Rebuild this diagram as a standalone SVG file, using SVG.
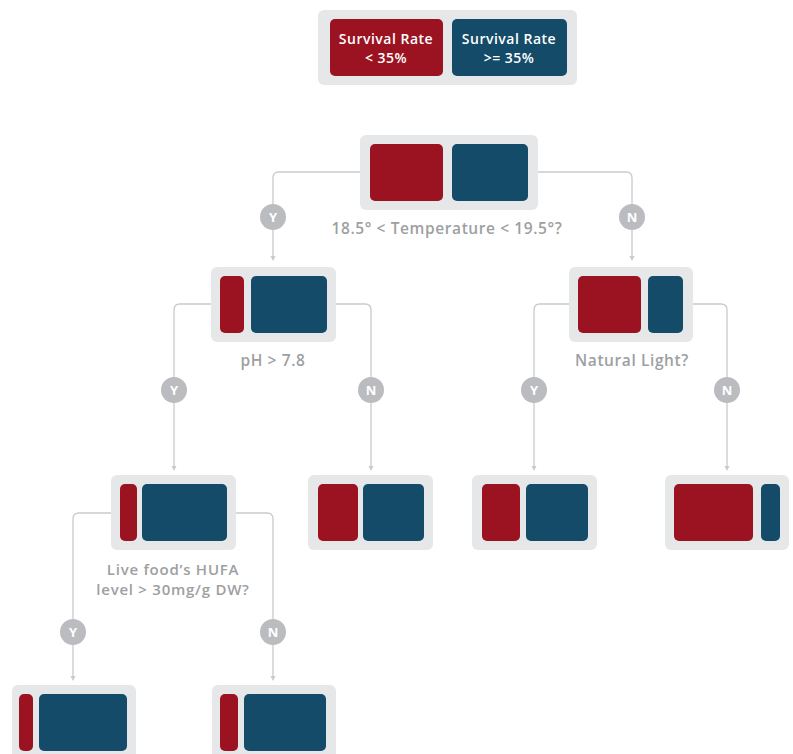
<svg xmlns="http://www.w3.org/2000/svg" width="793" height="754" viewBox="0 0 793 754">
<defs>
<style>
.box{fill:#E6E7E8}
.r{fill:#9B1220}
.b{fill:#134B69}
.c{fill:none;stroke:#C9CACC;stroke-width:1.3}
.dot{fill:#BBBCBF}
.dt{fill:#FFFFFF;font-family:"Open Sans",sans-serif;font-weight:700;font-size:13px;text-anchor:middle}
.lbl{fill:#9D9FA2;font-family:"Open Sans",sans-serif;font-weight:600;font-size:15.5px;letter-spacing:0.6px;text-anchor:middle}
.lbl2{fill:#9D9FA2;font-family:"Open Sans",sans-serif;font-weight:600;font-size:15px;letter-spacing:0.75px;text-anchor:middle}
.lg{fill:#FFFFFF;font-family:"Open Sans",sans-serif;font-weight:600;font-size:14px;letter-spacing:0.5px;text-anchor:middle}
</style>
</defs>
<rect width="793" height="754" fill="#FFFFFF"/>

<g id="connectors">
<path class="c" d="M360,172 H279 Q273,172 273,178 V258"/>
<path class="c" d="M538,172 H626 Q632,172 632,178 V258"/>
<path class="c" d="M211,304 H180 Q174,304 174,310 V468"/>
<path class="c" d="M336,304 H365 Q371,304 371,310 V468"/>
<path class="c" d="M569,304 H540 Q534,304 534,310 V468"/>
<path class="c" d="M693,304 H721 Q727,304 727,310 V468"/>
<path class="c" d="M111,513 H79 Q73,513 73,519 V678"/>
<path class="c" d="M236,513 H267 Q273,513 273,519 V678"/>
<g fill="#C9CACC">
<path d="M270.5,256 L275.5,256 L273,261 Z"/>
<path d="M629.5,256 L634.5,256 L632,261 Z"/>
<path d="M171.5,466 L176.5,466 L174,471 Z"/>
<path d="M368.5,466 L373.5,466 L371,471 Z"/>
<path d="M531.5,466 L536.5,466 L534,471 Z"/>
<path d="M724.5,466 L729.5,466 L727,471 Z"/>
<path d="M70.5,676 L75.5,676 L73,681 Z"/>
<path d="M270.5,676 L275.5,676 L273,681 Z"/>
</g>
<g id="yn">
<circle class="dot" cx="273" cy="217" r="13"/><text class="dt" x="273" y="222">Y</text>
<circle class="dot" cx="632" cy="217" r="13"/><text class="dt" x="632" y="222">N</text>
<circle class="dot" cx="174" cy="390" r="13"/><text class="dt" x="174" y="395">Y</text>
<circle class="dot" cx="371" cy="390" r="13"/><text class="dt" x="371" y="395">N</text>
<circle class="dot" cx="534" cy="390" r="13"/><text class="dt" x="534" y="395">Y</text>
<circle class="dot" cx="727" cy="390" r="13"/><text class="dt" x="727" y="395">N</text>
<circle class="dot" cx="73" cy="632" r="13"/><text class="dt" x="73" y="637">Y</text>
<circle class="dot" cx="273" cy="632" r="13"/><text class="dt" x="273" y="637">N</text>
</g>
</g>

<g id="legend">
<rect class="box" x="318" y="10" width="259" height="75" rx="6"/>
<rect class="r" x="330" y="19" width="113" height="57" rx="5"/>
<rect class="b" x="452" y="19" width="115" height="57" rx="5"/>
<text class="lg" x="386" y="44">Survival Rate</text>
<text class="lg" x="386" y="63">&lt; 35%</text>
<text class="lg" x="509" y="44">Survival Rate</text>
<text class="lg" x="509" y="63">&gt;= 35%</text>
</g>

<g id="root">
<rect class="box" x="360" y="135" width="178" height="75" rx="6"/>
<rect class="r" x="370" y="144" width="73" height="57" rx="5"/>
<rect class="b" x="452" y="144" width="76" height="57" rx="5"/>
<text class="lbl" x="447" y="234">18.5° &lt; Temperature &lt; 19.5°?</text>
</g>

<g id="ph">
<rect class="box" x="211" y="267" width="125" height="75" rx="6"/>
<rect class="r" x="220" y="276" width="24" height="57" rx="5"/>
<rect class="b" x="251" y="276" width="76" height="57" rx="5"/>
<text class="lbl" x="273" y="366">pH &gt; 7.8</text>
</g>

<g id="light">
<rect class="box" x="569" y="267" width="124" height="75" rx="6"/>
<rect class="r" x="578" y="276" width="63" height="57" rx="5"/>
<rect class="b" x="648" y="276" width="35" height="57" rx="5"/>
<text class="lbl" x="632" y="366">Natural Light?</text>
</g>

<g id="hufa">
<rect class="box" x="111" y="475" width="125" height="75" rx="6"/>
<rect class="r" x="120" y="484" width="17" height="57" rx="5"/>
<rect class="b" x="142" y="484" width="85" height="57" rx="5"/>
<text class="lbl2" x="173" y="575">Live food’s HUFA</text>
<text class="lbl2" x="173" y="595">level &gt; 30mg/g DW?</text>
</g>

<g id="leaf-ph-n">
<rect class="box" x="308" y="475" width="125" height="75" rx="6"/>
<rect class="r" x="318" y="484" width="40" height="57" rx="5"/>
<rect class="b" x="363" y="484" width="61" height="57" rx="5"/>
</g>

<g id="leaf-light-y">
<rect class="box" x="472" y="475" width="125" height="75" rx="6"/>
<rect class="r" x="482" y="484" width="38" height="57" rx="5"/>
<rect class="b" x="526" y="484" width="62" height="57" rx="5"/>
</g>

<g id="leaf-light-n">
<rect class="box" x="665" y="475" width="124" height="75" rx="6"/>
<rect class="r" x="674" y="484" width="79" height="57" rx="5"/>
<rect class="b" x="761" y="484" width="19" height="57" rx="5"/>
</g>

<g id="leaf-hufa-y">
<rect class="box" x="12" y="685" width="124" height="75" rx="6"/>
<rect class="r" x="19" y="694" width="14" height="57" rx="5"/>
<rect class="b" x="39" y="694" width="88" height="57" rx="5"/>
</g>

<g id="leaf-hufa-n">
<rect class="box" x="212" y="685" width="124" height="75" rx="6"/>
<rect class="r" x="220" y="694" width="18" height="57" rx="5"/>
<rect class="b" x="244" y="694" width="82" height="57" rx="5"/>
</g>
</svg>
